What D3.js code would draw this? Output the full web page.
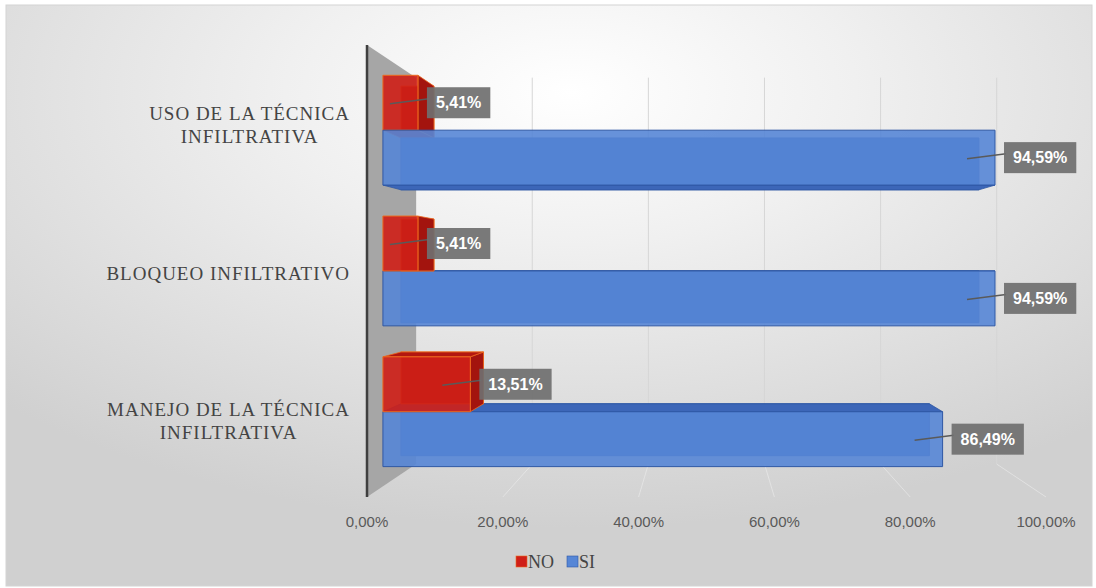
<!DOCTYPE html>
<html>
<head>
<meta charset="utf-8">
<script src="https://cdn.jsdelivr.net/npm/d3@7"></script>
<style>
  body { margin: 0; background: #ffffff; }
  svg { display: block; }
</style>
</head>
<body>
<svg id="chart"></svg>
<script>
// data
var categories = ["USO DE LA TÉCNICA INFILTRATIVA", "BLOQUEO INFILTRATIVO", "MANEJO DE LA TÉCNICA INFILTRATIVA"];
var categoryLines = [["USO DE LA TÉCNICA", "INFILTRATIVA"], ["BLOQUEO INFILTRATIVO"], ["MANEJO DE LA TÉCNICA", "INFILTRATIVA"]];
var series = ["NO", "SI"];
var noValues = [5.41, 5.41, 13.51];
var siValues = [94.59, 94.59, 86.49];
var xTicks = [0, 20, 40, 60, 80, 100];

var width = 1096, height = 588;

var svg = d3.select("#chart")
    .attr("width", width)
    .attr("height", height);

var defs = svg.append("defs");

// background gradient
var bg = defs.append("radialGradient")
    .attr("id", "bgGrad")
    .attr("cx", "52%").attr("cy", "15%").attr("r", "75%");
bg.append("stop").attr("offset", "0%").attr("stop-color", "#ffffff");
bg.append("stop").attr("offset", "35%").attr("stop-color", "#f0f0f0");
bg.append("stop").attr("offset", "100%").attr("stop-color", "#d0d0d0");

svg.append("rect")
    .attr("x", 6).attr("y", 5)
    .attr("width", width - 10).attr("height", height - 7)
    .attr("fill", "url(#bgGrad)")
    .attr("stroke", "#d4d4d4");

// scales (front plane)
var x = d3.scaleLinear().domain([0, 100]).range([367, 1046]);
var y = d3.scaleBand().domain(categories).range([45, 497])
    .paddingInner(0.22).paddingOuter(0.14);
var ySub = d3.scaleBand().domain(series).range([0, y.bandwidth()]);

// perspective toward vanishing point
var vp = [706, 270];
var sBackWall = 0.855, sFront = 0.953, sBack = 0.90;
function proj(X, Y, s) {
    return [vp[0] + (X - vp[0]) * s, vp[1] + (Y - vp[1]) * s];
}
function poly(pts) {
    return "M" + pts.map(function(p) { return p[0] + "," + p[1]; }).join("L") + "Z";
}

var top0 = 45, bot0 = 497;

// back wall gridlines
svg.selectAll("line.grid")
    .data(xTicks.slice(1))
    .enter()
    .append("line")
    .attr("class", "grid")
    .attr("x1", function(d) { return proj(x(d), top0, sBackWall)[0]; })
    .attr("x2", function(d) { return proj(x(d), bot0, sBackWall)[0]; })
    .attr("y1", proj(0, top0, sBackWall)[1])
    .attr("y2", proj(0, bot0, sBackWall)[1])
    .style("stroke", "#d6d6d6")
    .style("stroke-width", "1px");

// floor lines
svg.selectAll("line.floor")
    .data(xTicks.slice(1))
    .enter()
    .append("line")
    .attr("class", "floor")
    .attr("x1", function(d) { return proj(x(d), bot0, sBackWall)[0]; })
    .attr("y1", function(d) { return proj(x(d), bot0, sBackWall)[1]; })
    .attr("x2", function(d) { return proj(x(d), bot0, 1)[0]; })
    .attr("y2", function(d) { return proj(x(d), bot0, 1)[1]; })
    .style("stroke", "#ececec")
    .style("stroke-opacity", 0.6)
    .style("stroke-width", "1px");

// side wall
svg.append("path")
    .attr("d", poly([proj(x(0), top0, 1), proj(x(0), top0, sBackWall), proj(x(0), bot0, sBackWall), proj(x(0), bot0, 1)]))
    .attr("fill", "#a6a6a6");

svg.append("line")
    .attr("x1", x(0)).attr("x2", x(0))
    .attr("y1", top0).attr("y2", bot0)
    .style("stroke", "#3f3f3f")
    .style("stroke-width", "2.5px");

// bars
var colors = {
    NO: { front: "#cf1f17", side: "#a3140e", cap: "#b3170f", edge: "#ee6a1e" },
    SI: { front: "#5686d6", side: "#3a63b3", cap: "#3c66b8", edge: "#2f58a5" }
};

var bars = [];
categories.forEach(function(c, i) {
    [noValues[i], siValues[i]].forEach(function(v, j) {
        var s = series[j];
        var Y0 = y(c) + ySub(s);
        bars.push({ cat: c, serie: s, value: v, X0: x(0), X1: x(v), Y0: Y0, Y1: Y0 + ySub.bandwidth() });
    });
});

// draw far bars first so nearer faces cover them
bars.sort(function(a, b) {
    return Math.abs((b.Y0 + b.Y1) / 2 - vp[1]) - Math.abs((a.Y0 + a.Y1) / 2 - vp[1]);
});

var barG = svg.append("g");
bars.forEach(function(d) {
    var col = colors[d.serie];
    var g = barG.append("g");

    // back face
    g.append("path")
        .attr("d", poly([proj(d.X0, d.Y0, sBack), proj(d.X1, d.Y0, sBack), proj(d.X1, d.Y1, sBack), proj(d.X0, d.Y1, sBack)]))
        .attr("fill", col.side)
        .attr("stroke", col.edge)
        .attr("stroke-width", 1);

    if (d.X1 < vp[0]) {
        g.append("path")
            .attr("d", poly([proj(d.X1, d.Y0, sFront), proj(d.X1, d.Y0, sBack), proj(d.X1, d.Y1, sBack), proj(d.X1, d.Y1, sFront)]))
            .attr("fill", col.side)
            .attr("stroke", col.edge)
            .attr("stroke-width", 0.8);
    }
    if (d.Y0 > vp[1]) {
        g.append("path")
            .attr("d", poly([proj(d.X0, d.Y0, sFront), proj(d.X1, d.Y0, sFront), proj(d.X1, d.Y0, sBack), proj(d.X0, d.Y0, sBack)]))
            .attr("fill", col.cap)
            .attr("stroke", col.edge)
            .attr("stroke-width", 0.8);
    }
    if (d.Y1 < vp[1]) {
        g.append("path")
            .attr("d", poly([proj(d.X0, d.Y1, sFront), proj(d.X1, d.Y1, sFront), proj(d.X1, d.Y1, sBack), proj(d.X0, d.Y1, sBack)]))
            .attr("fill", col.cap)
            .attr("stroke", col.edge)
            .attr("stroke-width", 0.8);
    }

    // front face
    g.append("path")
        .attr("d", poly([proj(d.X0, d.Y0, sFront), proj(d.X1, d.Y0, sFront), proj(d.X1, d.Y1, sFront), proj(d.X0, d.Y1, sFront)]))
        .attr("fill", col.front)
        .attr("fill-opacity", 0.9)
        .attr("stroke", col.edge)
        .attr("stroke-width", 1);
});

// data labels
var fmt = function(v) { return v.toFixed(2).replace(".", ",") + "%"; };
var labelG = svg.append("g");
bars.forEach(function(d) {
    var end = proj(d.X1, (d.Y0 + d.Y1) / 2, sFront);
    var boxX = end[0] + 9;
    var cy = end[1];
    var g = labelG.append("g");

    var rect = g.append("rect")
        .attr("fill", "#6f6f6f")
        .attr("fill-opacity", 0.92);
    var t = g.append("text")
        .attr("x", boxX + 9)
        .attr("y", cy)
        .attr("dy", ".36em")
        .style("font", "bold 16px 'Liberation Sans', Arial, sans-serif")
        .style("fill", "#ffffff")
        .text(fmt(d.value));
    var tw = t.node().getComputedTextLength();
    rect.attr("x", boxX).attr("y", cy - 15.5)
        .attr("width", tw + 18).attr("height", 31);

    g.insert("line", "rect")
        .attr("x1", end[0] - 28).attr("y1", cy + 1)
        .attr("x2", boxX + 2).attr("y2", cy - 4)
        .style("stroke", "#5a5a5a")
        .style("stroke-width", "1.5px");
});

// x tick labels
svg.selectAll("text.tick")
    .data(xTicks)
    .enter()
    .append("text")
    .attr("class", "tick")
    .attr("x", function(d) { return proj(x(d), bot0, 1.0)[0]; })
    .attr("y", 527)
    .attr("text-anchor", "middle")
    .style("font", "15px 'Liberation Sans', Arial, sans-serif")
    .style("fill", "#595959")
    .text(function(d) { return d.toFixed(2).replace(".", ",") + "%"; });

// category labels
categories.forEach(function(c, i) {
    var lines = categoryLines[i];
    var cy = y(c) + y.bandwidth() / 2 + 2;
    var g = svg.append("g");
    var texts = lines.map(function(l, k) {
        return g.append("text")
            .attr("y", cy + (k - (lines.length - 1) / 2) * 23)
            .attr("dy", ".35em")
            .attr("text-anchor", "middle")
            .style("font", "19px 'Liberation Serif', 'Times New Roman', serif")
            .style("letter-spacing", "1px")
            .style("fill", "#444444")
            .text(l);
    });
    var maxW = d3.max(texts, function(t) { return t.node().getComputedTextLength(); });
    texts.forEach(function(t) { t.attr("x", 350 - maxW / 2); });
});

// legend
var legend = svg.append("g").attr("transform", "translate(516,562)");
var legX = 0;
series.forEach(function(s) {
    legend.append("rect")
        .attr("x", legX).attr("y", -6)
        .attr("width", 11).attr("height", 11)
        .attr("fill", colors[s].front)
        .attr("stroke", colors[s].edge)
        .attr("stroke-width", 0.6);
    var t = legend.append("text")
        .attr("x", legX + 12)
        .attr("y", 0)
        .attr("dy", ".35em")
        .style("font", "18px 'Liberation Serif', 'Times New Roman', serif")
        .style("fill", "#444444")
        .text(s);
    legX += 12 + t.node().getComputedTextLength() + 13;
});
</script>
</body>
</html>
